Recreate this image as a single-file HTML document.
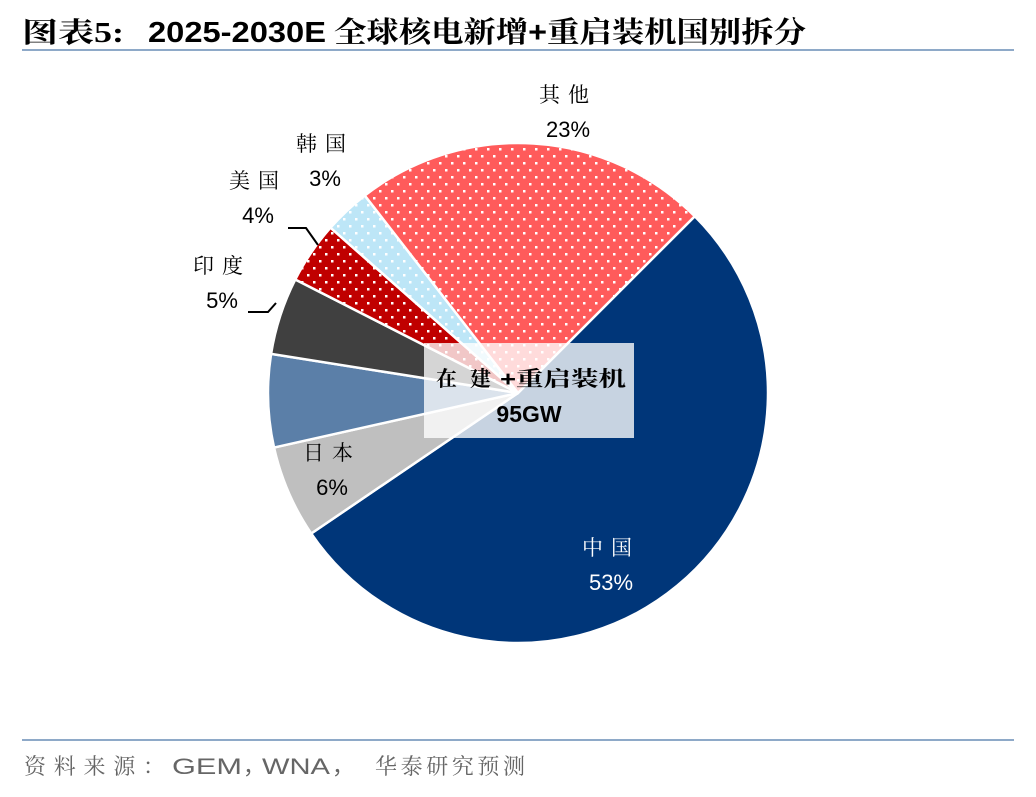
<!DOCTYPE html>
<html><head><meta charset="utf-8"><style>
body{margin:0;width:1036px;height:792px;background:#fff;overflow:hidden;font-family:"Liberation Sans","Noto Sans CJK SC",sans-serif;}
</style></head><body>
<svg width="1036" height="792" viewBox="0 0 1036 792">
<defs>
<pattern id="dots" width="12" height="14" patternUnits="userSpaceOnUse">
<rect x="1" y="1" width="2.5" height="2.5" fill="#fff"/><rect x="7" y="8" width="2.5" height="2.5" fill="#fff"/>
</pattern>
</defs>
<g font-weight="bold" fill="#000">
<text x="22" y="42" font-size="28" font-family="Liberation Serif,Noto Serif CJK SC,serif" textLength="102" lengthAdjust="spacingAndGlyphs">图表5:</text>
<text x="148" y="42" font-size="29" font-family="Liberation Sans,sans-serif" textLength="178" lengthAdjust="spacingAndGlyphs">2025-2030E</text>
<text x="334" y="42" font-size="29" font-family="Liberation Sans,Noto Serif CJK SC,serif" textLength="472" lengthAdjust="spacingAndGlyphs">全球核电新增+重启装机国别拆分</text>
</g>
<line x1="22" y1="50" x2="1014" y2="50" stroke="#8EA9C8" stroke-width="2"/>
<g id="pie"></g>
<rect x="424" y="343" width="210" height="95" fill="#fff" fill-opacity="0.78"/>
<text y="386" font-size="21" font-weight="bold" font-family="Liberation Sans,Noto Serif CJK SC,serif"><tspan x="436">在</tspan><tspan x="470">建</tspan><tspan x="500" textLength="126" lengthAdjust="spacingAndGlyphs">+重启装机</tspan></text>
<text x="529" y="422" font-size="23" font-weight="bold" text-anchor="middle">95GW</text>
<g id="labels" font-size="21" text-anchor="middle"></g>
<polyline points="288,228 306,228 318,245" fill="none" stroke="#000" stroke-width="2"/>
<polyline points="248,312 268,312 276,303" fill="none" stroke="#000" stroke-width="2"/>
<line x1="22" y1="740" x2="1014" y2="740" stroke="#8EA9C8" stroke-width="2"/>
<g font-size="22" fill="#666">
<text x="24" y="774" font-family="Noto Serif CJK SC,serif" textLength="141" lengthAdjust="spacing">资料来源：</text>
<text x="172" y="774" font-family="Liberation Sans,sans-serif" textLength="70" lengthAdjust="spacingAndGlyphs">GEM</text>
<text x="243" y="774" font-family="Noto Sans CJK SC,sans-serif">，</text>
<text x="262" y="774" font-family="Liberation Sans,sans-serif" textLength="68" lengthAdjust="spacingAndGlyphs">WNA</text>
<text x="332" y="774" font-family="Noto Sans CJK SC,sans-serif">，</text>
<text x="375" y="774" font-family="Noto Serif CJK SC,serif" textLength="150" lengthAdjust="spacing">华泰研究预测</text>
</g>
</svg>
<script>
const categories=["中国","日本","其他亚洲","印度","美国","韩国","其他"];
const shares=[53,6,6,5,4,3,23];
const colors=["#003679","#BFBFBF","#5B7FA8","#404040","#C00000","#BDE6F7","#FF5B5B"];
const dotted=[false,false,false,false,true,true,true];
const showLabel=[true,true,false,true,true,true,true];
const labelPos=[[611,555],[332,460],null,[222,273],[258,188],[325,151],[568,102]];
const cx=518,cy=393,r=250,start=45;
const NS="http://www.w3.org/2000/svg";
const pie=document.getElementById('pie'),labels=document.getElementById('labels');
const total=shares.reduce((a,b)=>a+b,0);
function pt(a){const t=a*Math.PI/180;return [cx+r*Math.sin(t),cy-r*Math.cos(t)];}
let a=start;
shares.forEach((v,i)=>{
 const sweep=v/total*360,[x1,y1]=pt(a),[x2,y2]=pt(a+sweep);
 const d=`M${cx},${cy}L${x1},${y1}A${r},${r} 0 ${sweep>180?1:0} 1 ${x2},${y2}Z`;
 const p=document.createElementNS(NS,'path');p.setAttribute('d',d);p.setAttribute('fill',colors[i]);
 p.setAttribute('stroke','#fff');p.setAttribute('stroke-width','2.5');
 
 
 pie.appendChild(p);
 if(dotted[i]){const q=document.createElementNS(NS,'path');q.setAttribute('d',d);q.setAttribute('fill','url(#dots)');
 
 
 pie.appendChild(q);}
 if(showLabel[i]){const [lx,ly]=labelPos[i];const w=i===0;
  const t1=document.createElementNS(NS,'text');t1.setAttribute('x',lx);t1.setAttribute('y',ly);t1.setAttribute('fill',w?'#fff':'#000');t1.setAttribute('letter-spacing','8');t1.setAttribute('font-family','Noto Serif CJK SC,serif');t1.textContent=categories[i];
  
  
  labels.appendChild(t1);
  const t2=document.createElementNS(NS,'text');t2.setAttribute('x',lx);t2.setAttribute('y',ly+35);t2.setAttribute('fill',w?'#fff':'#000');t2.setAttribute('font-size','22');t2.textContent=v+'%';
  
  
  labels.appendChild(t2);}
 a+=sweep;
});
</script>
</body></html>
